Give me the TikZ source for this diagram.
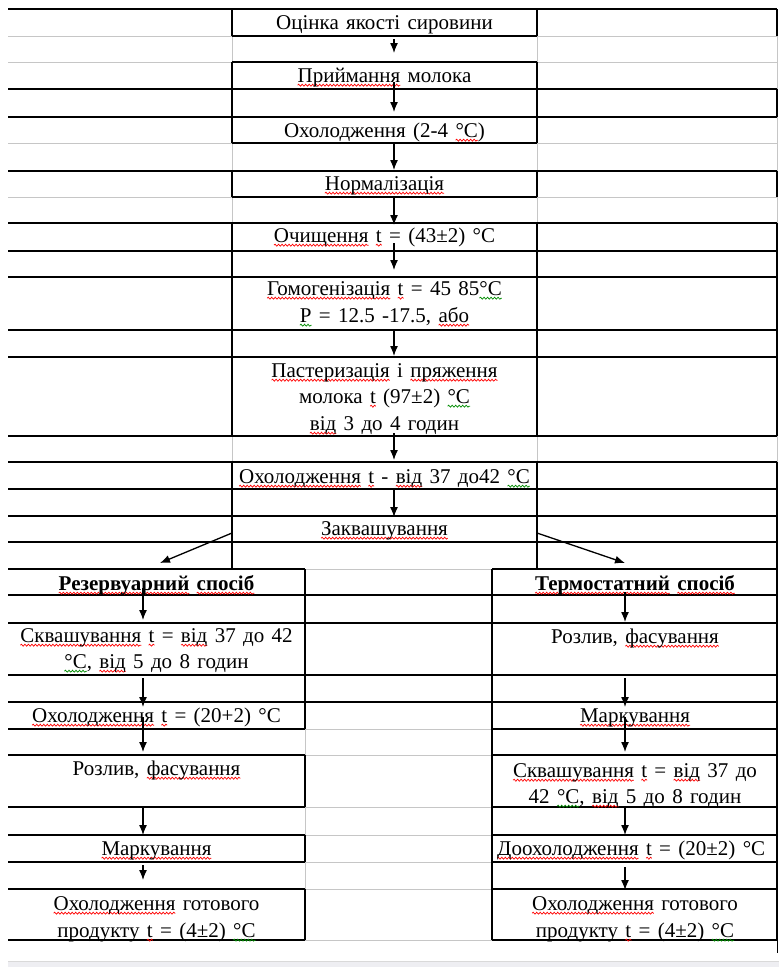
\documentclass[tikz,border=0pt]{standalone}
\usepackage{fontspec}
\setmainfont{Liberation Serif}[WordSpace=1.4]
\usetikzlibrary{arrows.meta,decorations.pathmorphing}
\newsavebox\wbox
\newcommand\sq[2]{\sbox\wbox{#2}\mbox{\tikz[baseline=0pt,overlay]\draw[#1,line width=0.7pt,decorate,decoration={snake,amplitude=1pt,segment length=3.5pt}] (0pt,-3.2pt) -- (\wd\wbox,-3.2pt);\usebox\wbox}}
\newcommand\rw[1]{\sq{red}{#1}}
\newcommand\gw[1]{\sq{green!55!black}{#1}}
\tikzset{
  dk/.style={line width=1.5pt, black},
  gr/.style={line width=1pt, gray!45},
  txt/.style={inner sep=0pt, anchor=base, font=\fontsize{21}{27}\selectfont},
  btxt/.style={txt, font=\fontsize{21}{27}\selectfont\bfseries},
  arr/.style={line width=1.3pt, -{Latex[length=10pt,width=8pt]}},
}
\begin{document}
\begin{tikzpicture}[x=1pt,y=-1pt]
\useasboundingbox (0,0) rectangle (779,967);
\fill[white] (0,0) rectangle (779,967);
% ---------- gray grid lines (upper)
\foreach \y in {36,62,143,197}{
  \draw[gr] (8,\y) -- (232,\y);
  \draw[gr] (537,\y) -- (777,\y);
}
\foreach \a/\b in {36/62,143/171,197/223,436/462}{
  \draw[gr] (232,\a) -- (232,\b);
  \draw[gr] (537,\a) -- (537,\b);
}
\foreach \a/\b in {36/89,117/171,197/223,436/462}{
  \draw[gr] (777,\a) -- (777,\b);
}
% ---------- gray grid lines (lower)
\foreach \y in {569,729,755,807,835,862,889,940}{
  \draw[gr] (305,\y) -- (492,\y);
}
\foreach \a/\b in {729/755,807/835,862/889}{
  \draw[gr] (305,\a) -- (305,\b);
}
% ---------- dark lines (upper)
\foreach \y in {9,89,117,171,223,251,277,330,357,436,462,489,516,542}{
  \draw[dk] (8,\y) -- (777,\y);
}
\foreach \y in {36,62,143,197}{
  \draw[dk] (232,\y) -- (537,\y);
}
\foreach \a/\b in {9/36,62/143,171/197,223/436,462/569}{
  \draw[dk] (232,\a) -- (232,\b);
  \draw[dk] (537,\a) -- (537,\b);
}
\foreach \a/\b in {9/36,89/117,171/197,223/436,462/569}{
  \draw[dk] (777,\a) -- (777,\b);
}
% ---------- dark lines (lower)
\foreach \y in {569,595,623,675,702,729,755,807,835,862,889,940}{
  \draw[dk] (8,\y) -- (305,\y);
  \draw[dk] (492,\y) -- (777,\y);
}
\foreach \y in {595,623,675,702}{
  \draw[dk] (305,\y) -- (492,\y);
}
\draw[dk] (305,569) -- (305,729);
\foreach \a/\b in {755/807,835/862,889/940}{
  \draw[dk] (305,\a) -- (305,\b);
}
\draw[dk] (492,569) -- (492,940);
\draw[dk] (777,569) -- (777,940);
\draw[line width=1pt] (777,940) -- (777,953);
% ---------- bottom band
\fill[blue!14!gray!12] (8,961.5) rectangle (779,967);
\draw[gray!30, line width=0.8pt] (8,961) -- (779,961);
% ---------- texts (centre column)
\node[txt] (n1) at (384.5,29) {Оцінка якості сировини};
\node[txt] (n2) at (384.5,82) {\rw{Приймання} молока};
\node[txt] (n3) at (384.5,137) {Охолодження (2-4 \rw{°C})};
\node[txt] (n4) at (384.5,190) {\rw{Нормалізація}};
\node[txt] (n5) at (384.5,242) {\rw{Очищення} \rw{t} = (43±2) °C};
\node[txt] (n6a) at (384.5,295) {\rw{Гомогенізація} \rw{t} = 45 85\gw{°C}};
\node[txt] (n6b) at (384.5,322) {\gw{P} = 12.5 -17.5, \rw{або}};
\node[txt] (n7a) at (384.5,377) {\rw{Пастеризація} і \rw{пряження}};
\node[txt] (n7b) at (384.5,403) {молока \rw{t} (97±2) \gw{°C}};
\node[txt] (n7c) at (384.5,430) {\rw{від} 3 до 4 годин};
\node[txt] (n8) at (384.5,483) {\rw{Охолодження} \rw{t} - \rw{від} 37 до42 \gw{°C}};
\node[txt] (n9) at (384.5,535) {\rw{Заквашування}};
% ---------- texts (left branch)
\node[btxt] (l1) at (156.5,590) {\rw{Резервуарний} \rw{спосіб}};
\node[txt] (l2a) at (156.5,642) {\rw{Сквашування} \rw{t} = \rw{від} 37 до 42};
\node[txt] (l2b) at (156.5,668) {\gw{°C}, \rw{від} 5 до 8 годин};
\node[txt] (l3) at (156.5,722) {\rw{Охолодження} \rw{t} = (20+2) °C};
\node[txt] (l4) at (156.5,775) {Розлив, \rw{фасування}};
\node[txt] (l5) at (156.5,855) {\rw{Маркування}};
\node[txt] (l6a) at (156.5,910) {\rw{Охолодження} готового};
\node[txt] (l6b) at (156.5,937) {продукту \rw{t} = (4±2) \gw{°C}};
% ---------- texts (right branch)
\node[btxt] (r1) at (635,590) {\rw{Термостатний} \rw{спосіб}};
\node[txt] (r2) at (635,643) {Розлив, \rw{фасування}};
\node[txt] (r3) at (635,722) {\rw{Маркування}};
\node[txt] (r4a) at (635,777) {\rw{Сквашування} \rw{t} = \rw{від} 37 до};
\node[txt] (r4b) at (635,803) {42 \gw{°C}, \rw{від} 5 до 8 годин};
\begin{scope}
\clip (492,835) rectangle (777,862);
\node[txt, anchor=base west] (r5) at (497,855) {\rw{Доохолодження} \rw{t} = (20±2) °C};
\end{scope}
\node[txt] (r6a) at (635,910) {\rw{Охолодження} готового};
\node[txt] (r6b) at (635,937) {продукту \rw{t} = (4±2) \gw{°C}};
% ---------- arrow end points
\coordinate (c1s) at (394,39);  \coordinate (c1e) at (394,53);
\coordinate (c2s) at (394,82);  \coordinate (c2e) at (394,112);
\coordinate (c3s) at (394,143); \coordinate (c3e) at (394,170);
\coordinate (c4s) at (394,197); \coordinate (c4e) at (394,225);
\coordinate (c5s) at (394,243); \coordinate (c5e) at (394,270);
\coordinate (c6s) at (394,330); \coordinate (c6e) at (394,356);
\coordinate (c7s) at (394,433); \coordinate (c7e) at (394,460);
\coordinate (c8s) at (394,490); \coordinate (c8e) at (394,517);
\coordinate (dls) at (232,533); \coordinate (dle) at (160,563);
\coordinate (drs) at (537,533); \coordinate (dre) at (625,563);
\coordinate (a1s) at (143,588); \coordinate (a1e) at (143,620);
\coordinate (a2s) at (143,678); \coordinate (a2e) at (143,707);
\coordinate (a3s) at (143,717); \coordinate (a3e) at (143,752);
\coordinate (a4s) at (143,808); \coordinate (a4e) at (143,835);
\coordinate (a5s) at (143,865); \coordinate (a5e) at (143,880);
\coordinate (b1s) at (625,592); \coordinate (b1e) at (625,622);
\coordinate (b2s) at (625,678); \coordinate (b2e) at (625,707);
\coordinate (b3s) at (625,717); \coordinate (b3e) at (625,752);
\coordinate (b4s) at (625,808); \coordinate (b4e) at (625,835);
\coordinate (b5s) at (625,867); \coordinate (b5e) at (625,890);
% ---------- arrows
\foreach \p in {c1,c2,c3,c4,c5,c6,c7,c8,dl,dr,a1,a2,a3,a4,a5,b1,b2,b3,b4,b5}{
  \draw[arr] (\p s) -- (\p e);
}
\end{tikzpicture}
\end{document}
